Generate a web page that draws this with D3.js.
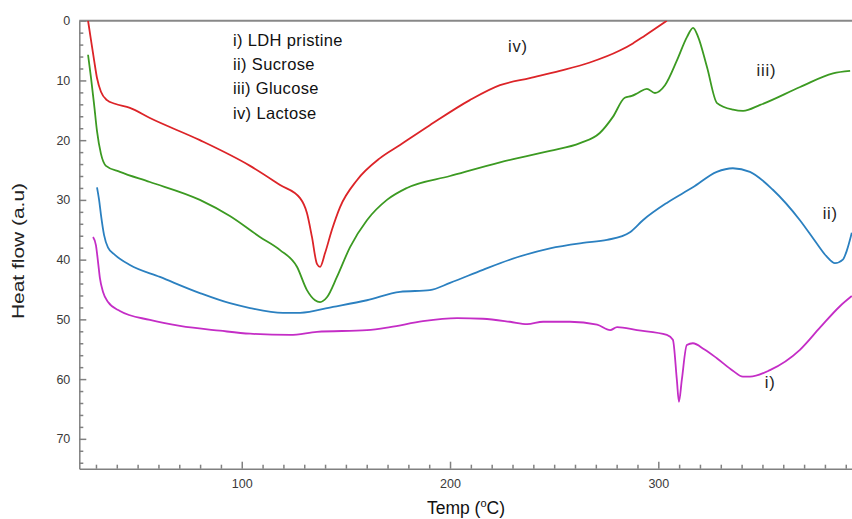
<!DOCTYPE html>
<html lang="en">
<head>
    <meta charset="UTF-8">
    <title>DSC curves</title>
    <script src="https://cdn.jsdelivr.net/npm/d3@7/dist/d3.min.js"></script>
    <style>
        body { margin: 0; background: #fff; }
        svg { display: block; font-family: "Liberation Sans", Arial, sans-serif; }
        .axis path, .axis line { stroke: #808080; stroke-width: 1.5px; }
        .axis text { fill: #3a3a3a; font-size: 12.5px; }
        .curve { fill: none; stroke-width: 1.8px; stroke-linejoin: round; }
    </style>
</head>
<body>
<script>
    // 画布大小
    const width = 852;
    const height = 519;
    const margin = {left: 79.3, top: 20.7, bottom: 468.7, right: 852};

    // series names
    const seriesNames = ['i) LDH pristine', 'ii) Sucrose', 'iii) Glucose', 'iv) Lactose'];
    const seriesColors = ['#c42dc6', '#2b80c0', '#3c9a22', '#dc2428'];

    // temperatures (°C) and heat flow (a.u)
    const ldhTemp = [28.6, 30.0, 31.0, 31.9, 33.4, 35.8, 41.5, 55.9, 70.3, 89.5, 104.0, 123.2, 136.1, 160.1, 171.2,
        187.0, 203.4, 215.8, 228.8, 237.0, 244.7, 257.6, 270.6, 276.9, 280.2, 289.8, 304.1, 307.0, 308.9, 309.9,
        311.3, 313.7, 316.6, 322.0, 328.1, 335.8, 340.6, 344.0, 353.6, 368.0, 377.6, 387.2, 392.9];
    const ldhFlow = [36.2, 37.6, 40.4, 43.1, 45.4, 47.1, 48.6, 50.1, 51.1, 51.9, 52.4, 52.6, 52.1, 51.8, 51.3,
        50.3, 49.8, 49.9, 50.4, 50.8, 50.4, 50.4, 50.9, 51.8, 51.3, 51.8, 52.6, 53.4, 60.1, 63.8,
        60.1, 54.3, 54.0, 55.0, 56.5, 58.6, 59.6, 59.6, 58.5, 55.1, 51.4, 47.8, 46.1];

    const sucroseTemp = [30.5, 31.5, 32.4, 33.9, 35.8, 39.1, 46.3, 60.7, 79.9, 94.3, 104.0, 119.8, 128.0, 143.8,
        160.1, 176.0, 190.3, 200.0, 215.8, 232.2, 248.0, 263.8, 275.4, 286.4, 292.6, 304.1, 316.6, 328.1, 335.8,
        344.0, 355.0, 368.0, 376.1, 380.9, 384.8, 388.6, 390.5, 392.9];
    const sucroseFlow = [27.9, 30.0, 32.5, 35.9, 38.0, 39.2, 40.9, 42.9, 45.6, 47.3, 48.1, 48.9, 48.9, 47.9,
        46.8, 45.4, 45.1, 43.9, 41.7, 39.6, 38.1, 37.2, 36.7, 35.4, 33.4, 30.5, 27.9, 25.3, 24.7,
        25.3, 28.3, 33.4, 37.3, 39.5, 40.6, 40.0, 38.5, 35.5];

    const glucoseTemp = [26.2, 27.6, 29.1, 30.5, 32.4, 34.8, 41.5, 55.9, 79.9, 94.3, 108.7, 118.4, 126.5, 131.3,
        135.2, 137.6, 140.9, 145.7, 152.0, 160.1, 169.7, 179.3, 200.0, 224.0, 248.0, 262.4, 271.9, 278.2, 283.9,
        287.3, 290.2, 294.5, 298.4, 303.2, 309.0, 313.8, 316.7, 319.1, 323.4, 328.2, 335.9, 340.7, 348.9, 368.1,
        383.9, 392.1];
    const glucoseFlow = [5.7, 9.5, 14.0, 18.5, 22.3, 24.3, 25.3, 27.0, 30.0, 32.7, 36.2, 38.4, 41.2, 45.1,
        46.8, 47.1, 46.3, 42.9, 37.9, 33.4, 30.0, 28.0, 26.0, 23.7, 21.8, 20.5, 18.8, 16.1, 12.9,
        12.6, 12.1, 11.4, 12.1, 10.8, 6.6, 2.7, 1.2, 2.7, 7.8, 13.8, 14.9, 15.1, 14.1, 11.1,
        8.8, 8.4];

    const lactoseTemp = [26.2, 27.6, 29.1, 30.5, 32.4, 35.3, 39.1, 46.3, 55.9, 79.9, 104.0, 118.4, 128.0, 131.3,
        133.7, 136.1, 137.6, 140.0, 143.3, 147.2, 155.3, 166.4, 176.0, 190.3, 209.5, 224.0, 238.3, 252.7, 267.1,
        281.5, 287.8, 293.5, 304.1];
    const lactoseFlow = [0, 3.2, 6.6, 9.6, 11.9, 13.3, 13.9, 14.6, 16.3, 20.0, 24.3, 27.5, 29.7, 32.2,
        36.2, 40.7, 41.2, 38.9, 35.0, 31.2, 26.7, 23.0, 20.8, 17.5, 13.3, 10.8, 9.6, 8.4, 7.0,
        5.0, 3.8, 2.5, 0];

    // tick values
    const xMajorTicks = [100, 200, 300];
    const xMinorTicks = d3.range(30, 400, 10).filter(v => v % 100 !== 0);
    const yMajorTicks = [0, 10, 20, 30, 40, 50, 60, 70];
    const yMinorTicks = d3.range(2, 76, 2).filter(v => v % 10 !== 0);

    let series = [
        {temp: ldhTemp, flow: ldhFlow, color: seriesColors[0], tag: 'i)', at: [351.1, 60.6]},
        {temp: sucroseTemp, flow: sucroseFlow, color: seriesColors[1], tag: 'ii)', at: [378.9, 32.2]},
        {temp: glucoseTemp, flow: glucoseFlow, color: seriesColors[2], tag: 'iii)', at: [347.2, 8.3]},
        {temp: lactoseTemp, flow: lactoseFlow, color: seriesColors[3], tag: 'iv)', at: [227.8, 4.2]}
    ];

    let x = d3.scaleLinear().domain([22, 393]).range([margin.left, margin.right]);
    let y = d3.scaleLinear().domain([0, 75]).range([margin.top, margin.bottom]);

    let svg = d3.select('body')
        .append('svg')
        .attr('width', width)
        .attr('height', height);

    svg.append('clipPath')
        .attr('id', 'plot')
        .append('rect')
        .attr('x', margin.left)
        .attr('y', margin.top)
        .attr('width', margin.right - margin.left)
        .attr('height', margin.bottom - margin.top);

    // minor ticks
    svg.append('g')
        .attr('class', 'axis')
        .attr('transform', `translate(0,${margin.bottom})`)
        .call(d3.axisBottom(x).tickValues(xMinorTicks).tickSize(-4).tickFormat(''))
        .call(g => g.select('.domain').remove());
    svg.append('g')
        .attr('class', 'axis')
        .attr('transform', `translate(${margin.left},0)`)
        .call(d3.axisLeft(y).tickValues(yMinorTicks).tickSize(-4).tickFormat(''))
        .call(g => g.select('.domain').remove());

    // major ticks + axis lines
    svg.append('g')
        .attr('class', 'axis')
        .attr('transform', `translate(0,${margin.bottom})`)
        .call(d3.axisBottom(x).tickValues(xMajorTicks).tickSizeInner(-7).tickSizeOuter(0).tickPadding(10));
    svg.append('g')
        .attr('class', 'axis')
        .attr('transform', `translate(${margin.left},0)`)
        .call(d3.axisLeft(y).tickValues(yMajorTicks).tickSizeInner(-7).tickSizeOuter(0).tickPadding(9));

    // top frame
    svg.append('line')
        .attr('x1', margin.left).attr('x2', margin.right)
        .attr('y1', margin.top).attr('y2', margin.top)
        .attr('stroke', '#888').attr('stroke-width', 2);

    // curves
    let line = d3.line()
        .x(d => x(d[0]))
        .y(d => y(d[1]))
        .curve(d3.curveMonotoneX);

    svg.append('g')
        .attr('clip-path', 'url(#plot)')
        .selectAll('path')
        .data(series)
        .enter()
        .append('path')
        .attr('class', 'curve')
        .attr('stroke', d => d.color)
        .attr('d', d => line(d3.zip(d.temp, d.flow)));

    // curve tags
    svg.append('g')
        .selectAll('text')
        .data(series)
        .enter()
        .append('text')
        .attr('x', d => x(d.at[0]))
        .attr('y', d => y(d.at[1]))
        .attr('dy', '0.35em')
        .attr('fill', '#222')
        .attr('font-size', '16.5px')
        .attr('letter-spacing', '0.8px')
        .text(d => d.tag);

    // legend text
    svg.append('g')
        .selectAll('text')
        .data(seriesNames)
        .enter()
        .append('text')
        .attr('x', 233)
        .attr('y', (d, i) => 40 + i * 24.3)
        .attr('dy', '0.35em')
        .attr('fill', '#111')
        .attr('font-size', '16.5px')
        .attr('letter-spacing', '0.35px')
        .text(d => d);

    // axis titles
    let xTitle = svg.append('text')
        .attr('x', 466)
        .attr('y', 514)
        .attr('text-anchor', 'middle')
        .attr('fill', '#111')
        .attr('font-size', '17.5px');
    xTitle.append('tspan').text('Temp (');
    xTitle.append('tspan').attr('font-size', '11px').attr('dy', '-7').text('o');
    xTitle.append('tspan').attr('dy', '7').text('C)');

    svg.append('text')
        .attr('transform', 'translate(24,251) rotate(-90)')
        .attr('text-anchor', 'middle')
        .attr('fill', '#222')
        .attr('font-size', '16px')
        .attr('textLength', 136)
        .attr('lengthAdjust', 'spacingAndGlyphs')
        .text('Heat flow (a.u)');
</script>
</body>
</html>
